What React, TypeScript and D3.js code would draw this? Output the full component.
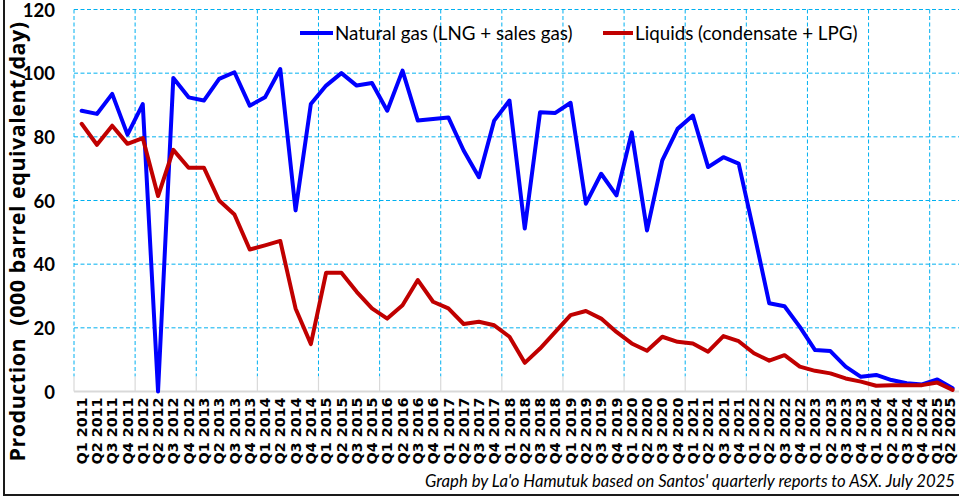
import React from "react";
import * as d3 from "d3";

const years = d3.range(2011, 2026);
const quarters = years.flatMap((y) => [1, 2, 3, 4].map((q) => `Q${q} ${y}`)).slice(0, 58);

const naturalGas = [
  88.2, 87.2, 93.5, 80.7, 90.3, 0, 98.5, 92.4, 91.4, 98.2,
  100.3, 89.8, 92.4, 101.3, 56.9, 90.3, 96.1, 100, 96.1, 96.9,
  88.2, 100.8, 85.1, 85.6, 86.1, 75.7, 67.3, 85.1, 91.4, 51.2,
  87.7, 87.5, 90.7, 59, 68.4, 61.6, 81.4, 50.6, 72.6, 82.5,
  86.7, 70.5, 73.6, 71.6, 50, 27.7, 26.8, 20.3, 13, 12.7,
  7.8, 4.6, 5.2, 3.6, 2.6, 2.2, 3.8, 1,
];

const liquids = [
  84.1, 77.5, 83.5, 77.8, 79.6, 61.4, 75.9, 70.3, 70.3, 60,
  55.6, 44.6, 45.9, 47.3, 26.1, 14.9, 37.3, 37.3, 31.3, 26.1,
  22.9, 27.1, 35, 28.2, 26.1, 21.2, 21.9, 20.8, 17.2, 9.0,
  13.5, 18.7, 24, 25.3, 22.9, 18.7, 15.1, 12.8, 17.2, 15.6,
  15.1, 12.5, 17.4, 15.8, 12, 9.7, 11.4, 7.8, 6.5, 5.7,
  4.1, 3.1, 1.8, 2, 2, 2, 2.8, 0.5,
];

const yTicks = [0, 20, 40, 60, 80, 100, 120];

const seriesNames = ["Natural gas (LNG + sales gas)", "Liquids (condensate + LPG)"];
const seriesColors = ["#0000FF", "#C00000"];

const W = 959;
const H = 499;
const left = 74;
const bandW = 15.28;
const right = left + quarters.length * bandW;
const top = 9.5;
const bottom = 391.5;

export default function App() {
  const x = d3.scaleBand<string>().domain(quarters).range([left, right]).padding(0);
  const y = d3.scaleLinear().domain([0, 120]).range([bottom, top]);
  const cx = (q: string) => (x(q) as number) + x.bandwidth() / 2;

  const line = d3
    .line<number>()
    .x((_, i) => cx(quarters[i]))
    .y((d) => y(d));

  const vGrid = quarters.filter((_, i) => i % 4 === 0).map((q) => x(q) as number);

  const gridColor = "#00B0F0";
  const calibri = "Lato, 'Open Sans', sans-serif";

  return (
    <svg width={W} height={H} style={{ position: "absolute", left: 0, top: 0, background: "#fff" }}>
      {/* horizontal grid */}
      {yTicks.filter((t) => t > 0).map((t) => (
        <line key={"h" + t} x1={left} x2={right} y1={y(t)} y2={y(t)} stroke={gridColor} strokeWidth={1} strokeDasharray="4,2.5" />
      ))}
      {/* vertical grid */}
      {vGrid.map((gx, i) => (
        <g key={"v" + i}>
          <line x1={gx} x2={gx} y1={top} y2={bottom - 15} stroke={gridColor} strokeWidth={1} strokeDasharray="4,2.5" />
          <line x1={gx} x2={gx} y1={bottom - 15} y2={bottom} stroke="#D9D9D9" strokeWidth={1.2} />
        </g>
      ))}
      {/* x axis line */}
      <line x1={left} x2={right} y1={bottom} y2={bottom} stroke="#D9D9D9" strokeWidth={1.8} />

      {/* y tick labels */}
      {yTicks.map((t) => (
        <text key={"yt" + t} x={55} y={y(t) + 7} textAnchor="end" fontFamily={calibri} fontWeight={700} fontSize={18.5} fill="#000">
          {t}
        </text>
      ))}

      {/* x tick labels */}
      {quarters.map((q) => (
        <text
          key={"xt" + q}
          transform={`translate(${Math.min(cx(q), 950)},${bottom + 6}) rotate(-90)`}
          textAnchor="end"
          dy="0.36em"
          fontFamily="'DejaVu Sans', Verdana, sans-serif"
          fontWeight={700}
          fontSize={14.3}
          fill="#000"
        >
          {q}
        </text>
      ))}

      {/* y axis title */}
      <text
        transform={`translate(25,${(469 + 14) / 2}) rotate(-90)`}
        textAnchor="middle"
        fontFamily="'Open Sans', Lato, sans-serif"
        fontWeight={700}
        fontSize={21.5}
        letterSpacing={0.5}
        fill="#000"
      >
        {"Production\u00a0\u00a0(000 barrel equivalent/day)"}
      </text>

      {/* series */}
      {[naturalGas, liquids].map((s, k) => (
        <path key={"s" + k} d={line(s) || ""} fill="none" stroke={seriesColors[k]} strokeWidth={4} strokeLinejoin="round" strokeLinecap="round" />
      ))}

      {/* legend */}
      <line x1={300} x2={333} y1={33} y2={33} stroke={seriesColors[0]} strokeWidth={4} />
      <text x={335} y={39.5} fontFamily={calibri} fontSize={18.8} fill="#000">{seriesNames[0]}</text>
      <line x1={603} x2={633} y1={33} y2={33} stroke={seriesColors[1]} strokeWidth={4} />
      <text x={635} y={39.5} fontFamily={calibri} fontSize={18.8} fill="#000">{seriesNames[1]}</text>

      {/* footer */}
      <text x={955} y={487} textAnchor="end" fontFamily={calibri} fontStyle="italic" fontSize={16.7} fill="#000">
        Graph by La'o Hamutuk based on Santos' quarterly reports to ASX. July 2025
      </text>

      {/* frame */}
      <rect x={4} y={-5} width={970} height={500} fill="none" stroke="#1a1a1a" strokeWidth={2} />
    </svg>
  );
}
